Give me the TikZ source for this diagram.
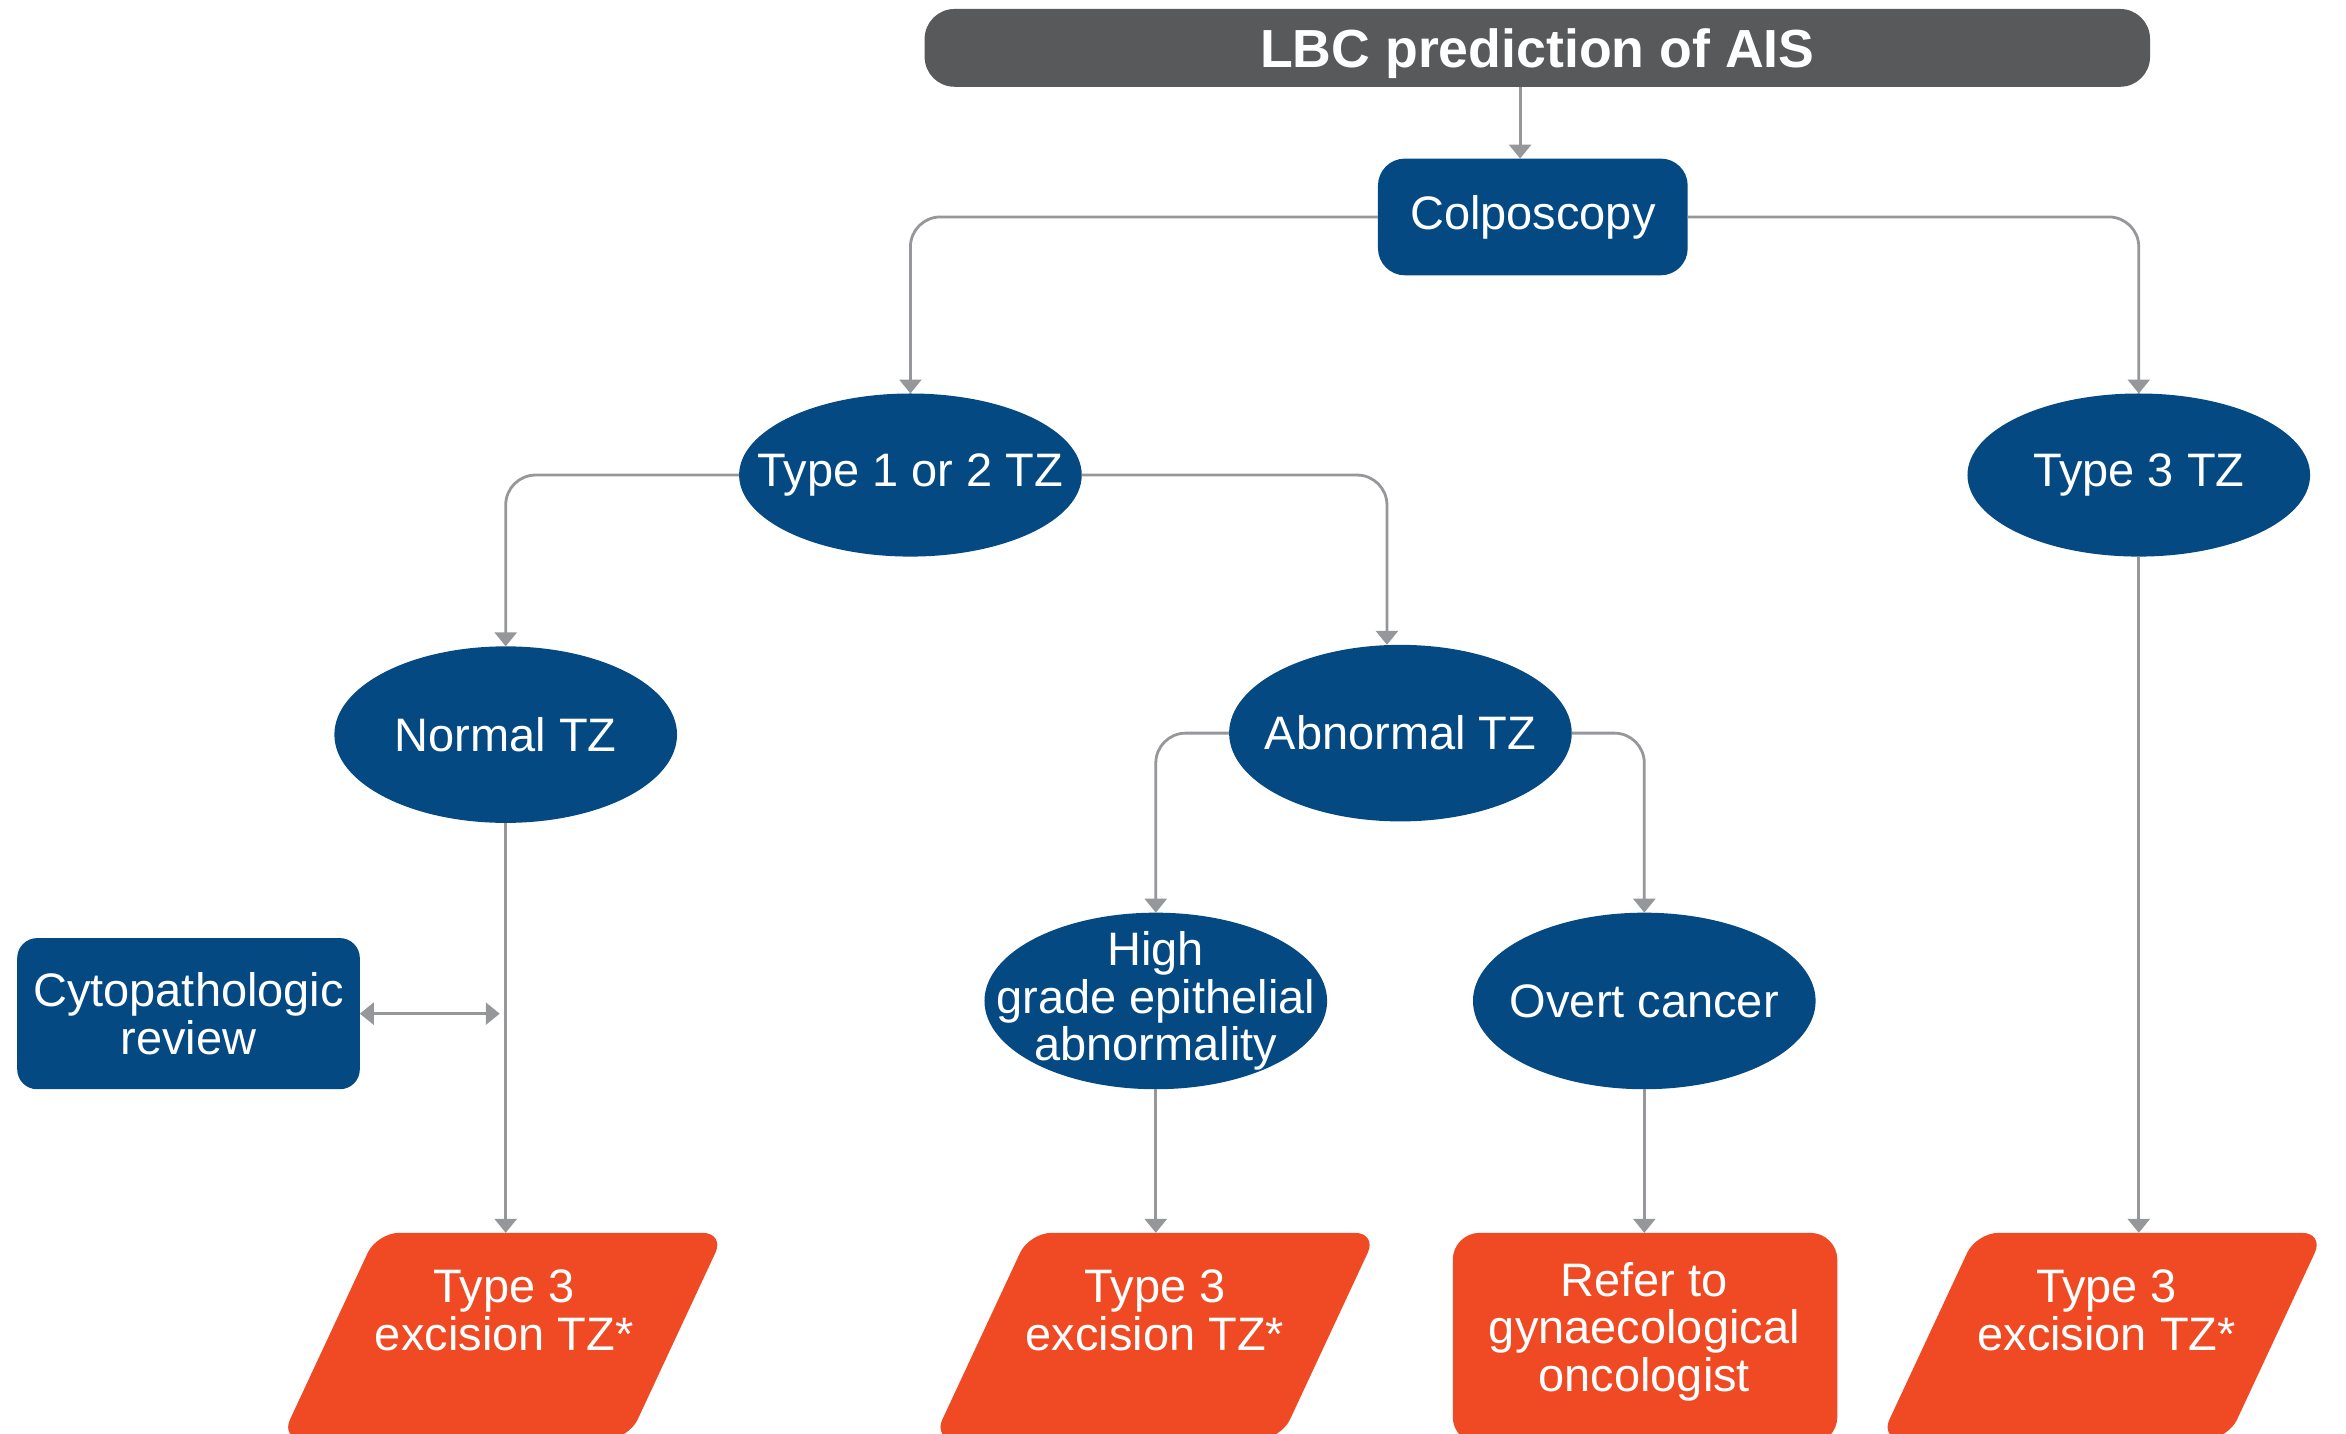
\documentclass[tikz,border=0pt]{standalone}
\usepackage{fontspec}
\setmainfont{Liberation Sans}
\usepackage{tikz}
\usetikzlibrary{arrows.meta}
\usetikzlibrary{shapes.geometric}

\definecolor{aisblue}{RGB}{4,73,130}
\definecolor{aisorange}{RGB}{239,74,36}
\definecolor{aisgrey}{RGB}{88,89,91}
\definecolor{linegrey}{RGB}{150,151,154}

\begin{document}
\begin{tikzpicture}[x=0.015cm, y=-0.015cm,
  every node/.style={outer sep=0pt, text=white, font=\fontsize{13.4}{13.6}\selectfont},
  headbox/.style={fill=aisgrey, rounded corners=0.3cm, minimum width=12.285cm, minimum height=0.78cm, text depth=0pt, font=\bfseries\fontsize{15.3}{16}\selectfont},
  bluebox/.style={fill=aisblue, inner sep=0pt, align=center},
  oval/.style={ellipse, fill=aisblue, minimum width=3.435cm, minimum height=1.77cm, inner xsep=-0.6cm, inner ysep=-0.3cm, align=center},
  slant/.style={trapezium, trapezium left angle=65, trapezium right angle=115, fill=aisorange, rounded corners=0.22cm, minimum width=0pt, minimum height=0pt, inner xsep=1.26cm, inner ysep=1.035cm, anchor=north},
  referbox/.style={fill=aisorange, rounded corners=0.27cm, minimum width=3.855cm, minimum height=2.115cm, anchor=north},
  lbl/.style={align=center},
  conn/.style={draw=linegrey, line width=0.8pt, rounded corners=0.3cm, -{Triangle[width=0.22cm,length=0.14cm]}}
]
\useasboundingbox (0,0) rectangle (1568,958);
\clip (0,0) rectangle (1568,958);

\node[headbox] (title) at (1027.5,32) {LBC prediction of AIS};
\node[bluebox, rounded corners=0.27cm, minimum width=3.105cm, minimum height=1.17cm] (col) at (1024.5,145) {Colposcopy};
\node[oval, minimum height=1.635cm] (t12) at (608.5,317.5) {Type 1 or 2 TZ};
\node[oval, minimum height=1.635cm] (t3) at (1429.5,317.5) {Type 3 TZ};
\node[oval] (normal) at (338,491) {Normal TZ};
\node[oval] (abn) at (936,490) {Abnormal TZ};
\node[oval] (hg) at (772.5,669) {High\\grade epithelial\\abnormality};
\node[oval] (overt) at (1099,669) {Overt cancer};
\node[bluebox, rounded corners=0.2cm, minimum width=3.435cm, minimum height=1.515cm] (cyto) at (126,677.5) {Cytopathologic\\review};

\node[slant] (exL) at (336,824) {};
\node[slant] (exM) at (772,824) {};
\node[referbox] (refer) at (1099.5,824) {};
\node[slant] (exR) at (1405,824) {};
\node[lbl] (exLtext) at (337,876) {Type 3\\excision TZ*};
\node[lbl] (exMtext) at (772,876) {Type 3\\excision TZ*};
\node[lbl] (refertext) at (1099,890) {Refer to\\gynaecological\\oncologist};
\node[lbl] (exRtext) at (1408,876) {Type 3\\excision TZ*};

\coordinate (cytoend) at (cyto.east -| normal.south);

\draw[conn] (title.south -| 1016,0) -- (col.north -| 1016,0);
\draw[conn] (col.west) -| (t12.north);
\draw[conn] (col.east) -| (t3.north);
\draw[conn] (t12.west) -| (normal.north);
\draw[conn] (t12.east) -| ([xshift=-0.135cm]abn.north);
\draw[conn] (abn.west) -| (hg.north);
\draw[conn] (abn.east) -| (overt.north);
\draw[conn] (normal.south) -- (normal.south |- exL.north);
\draw[conn] (hg.south) -- (hg.south |- exM.north);
\draw[conn] (overt.south) -- (overt.south |- refer.north);
\draw[conn] (t3.south) -- (t3.south |- exR.north);
\draw[conn, {Triangle[width=0.22cm,length=0.14cm]}-{Triangle[width=0.22cm,length=0.14cm]}, shorten >=0.06cm] (cyto.east) -- (cytoend);
\end{tikzpicture}
\end{document}
